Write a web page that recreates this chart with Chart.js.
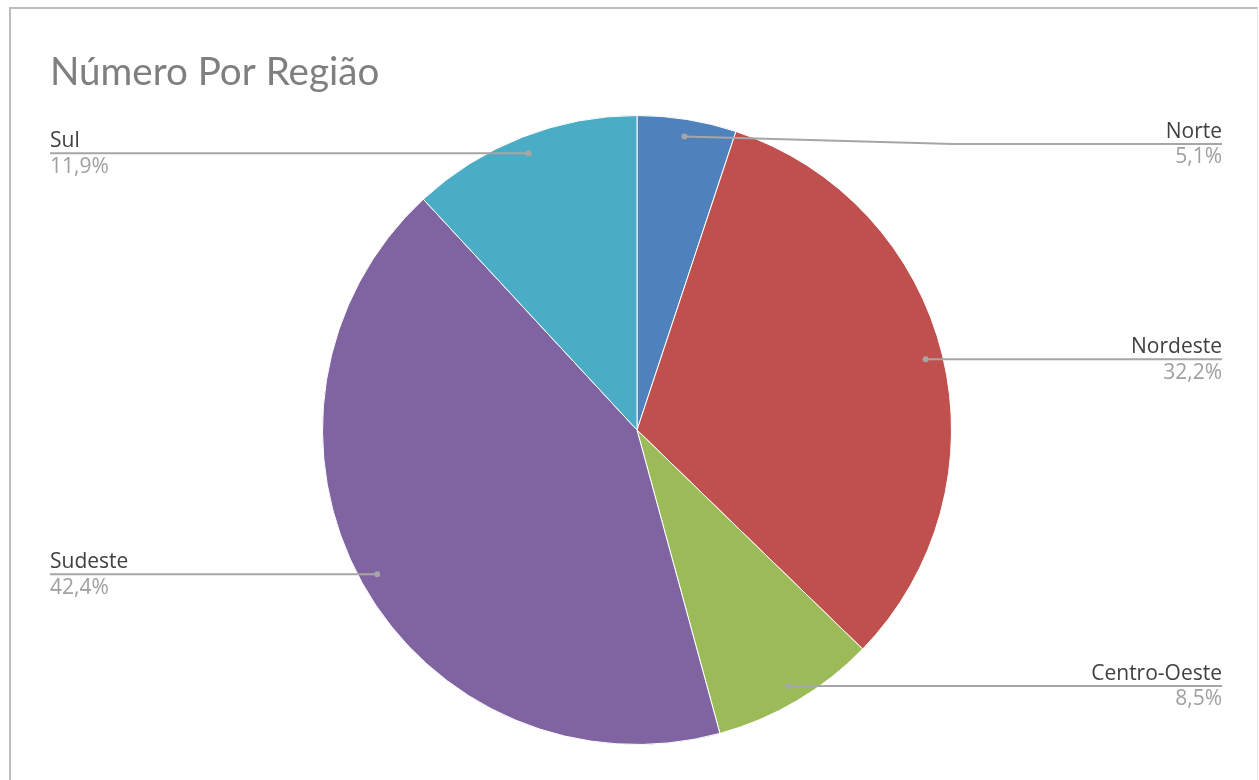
<!DOCTYPE html>
<html>
<head>
<meta charset="utf-8">
<script src="https://cdn.jsdelivr.net/npm/chart.js@4.4.1/dist/chart.umd.min.js"></script>
<style>
    body { margin: 0; background: #fff; overflow: hidden; }
    #frame {
        position: absolute; left: 9px; top: 7px; width: 1246px; height: 800px;
        border: 2px solid #bdbdbd; border-right: 1px solid #e6e6e6;
    }
    #grafico { position: absolute; left: 0; top: 0; }
</style>
</head>
<body>
<div id="frame"></div>
<canvas id="grafico" width="1259" height="780"></canvas>
<script>
const regioes = ['Norte', 'Nordeste', 'Centro-Oeste', 'Sudeste', 'Sul'];
const percentuais = [5.1, 32.2, 8.5, 42.4, 11.9];
const cores = ['#4F81BD', '#C0504D', '#9BBB59', '#8064A2', '#4BACC6'];
const titulo = 'Número Por Região';

// rótulos com linhas de chamada no estilo do Excel
const rotulosExcel = {
    id: 'rotulosExcel',
    afterDraw(chart) {
        const ctx = chart.ctx;
        const meta = chart.getDatasetMeta(0);

        ctx.save();
        ctx.font = '38.6px Lato';
        ctx.fillStyle = '#7f7f7f';
        ctx.textAlign = 'left';
        ctx.textBaseline = 'alphabetic';
        ctx.fillText(titulo, 50, 85);

        meta.data.forEach((arc, i) => {
            const p = arc.getProps(['x', 'y', 'startAngle', 'endAngle', 'outerRadius'], true);
            const meio = (p.startAngle + p.endAngle) / 2;
            const r = p.outerRadius * 0.945;
            const dx = p.x + Math.cos(meio) * r;
            const dy = p.y + Math.sin(meio) * r;
            const direita = Math.cos(meio) >= 0;
            const linhaY = Math.max(dy, 144);
            const fimX = direita ? 1222 : 50;

            ctx.strokeStyle = '#a6a6a6';
            ctx.lineWidth = 2;
            ctx.beginPath();
            ctx.moveTo(dx, dy);
            if (linhaY !== dy) {
                ctx.lineTo((dx + fimX) / 2, linhaY);
            }
            ctx.lineTo(fimX, linhaY);
            ctx.stroke();

            ctx.fillStyle = '#a6a6a6';
            ctx.beginPath();
            ctx.arc(dx, dy, 3, 0, Math.PI * 2);
            ctx.fill();

            ctx.textAlign = direita ? 'right' : 'left';
            ctx.font = '21px "Open Sans"';
            ctx.fillStyle = '#404040';
            ctx.textBaseline = 'alphabetic';
            ctx.fillText(regioes[i], fimX, linhaY - 6);
            ctx.fillStyle = '#a0a0a0';
            ctx.textBaseline = 'top';
            ctx.fillText(percentuais[i].toFixed(1).replace('.', ',') + '%', fimX, linhaY + 3);
        });
        ctx.restore();
    }
};

const dataPizza = {
    labels: regioes,
    datasets: [{
        data: percentuais,
        backgroundColor: cores,
        borderColor: '#ffffff',
        borderWidth: 1
    }]
};

const configPizza = {
    type: 'pie',
    data: dataPizza,
    options: {
        responsive: false,
        animation: false,
        layout: {
            padding: { left: 322, right: 307, top: 115, bottom: 35 }
        },
        plugins: {
            legend: { display: false },
            title: { display: false },
            tooltip: { enabled: false }
        }
    },
    plugins: [rotulosExcel]
};

const pizza = new Chart(document.getElementById('grafico'), configPizza);
</script>
</body>
</html>
